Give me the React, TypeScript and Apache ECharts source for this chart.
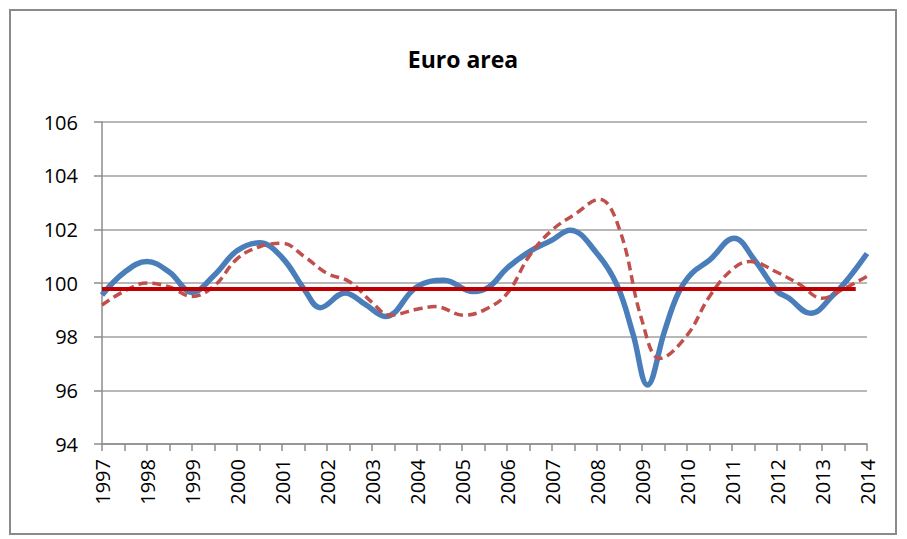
import { useEffect, useRef } from "react";
import * as echarts from "echarts";

const bluePeriods = [
  1997, 1997.5, 1998, 1998.5, 1999, 1999.5, 2000, 2000.5, 2001, 2001.5,
  2001.85, 2002.4, 2002.85, 2003.3, 2004, 2004.6, 2005.25, 2005.6, 2006, 2006.5,
  2007, 2007.4, 2008, 2008.45, 2008.8, 2009.12, 2009.5, 2009.8, 2010.1, 2010.5,
  2011.05, 2011.5, 2012, 2012.25, 2012.75, 2013.25, 2013.6, 2014,
];

const blueSeries = [
  99.55, 100.4, 100.8, 100.4, 99.65, 100.3, 101.2, 101.5, 100.95, 99.75,
  99.08, 99.63, 99.2, 98.75, 99.86, 100.1, 99.68, 99.85, 100.55, 101.17,
  101.6, 101.97, 101.1, 99.9, 98.1, 96.2, 98.2, 99.6, 100.35, 100.85,
  101.67, 100.86, 99.7, 99.45, 98.87, 99.55, 100.2, 101.1,
];

const redPeriods = [
  1997, 1997.5, 1998, 1998.5, 1999, 1999.5, 2000, 2000.5, 2001, 2001.5,
  2002, 2002.5, 2003, 2003.4, 2004, 2004.4, 2005.05, 2005.5, 2006, 2006.5,
  2007, 2007.5, 2008.05, 2008.5, 2009, 2009.4, 2010, 2010.5, 2011, 2011.4,
  2012, 2012.5, 2013, 2013.5, 2014,
];

const redDashedSeries = [
  99.18, 99.7, 100.0, 99.85, 99.5, 99.9, 100.9, 101.35, 101.48, 100.98,
  100.36, 100.05, 99.28, 98.8, 99.02, 99.12, 98.8, 99.0, 99.6, 101.02,
  101.97, 102.55, 103.12, 102.0, 98.6, 97.19, 98.05, 99.5, 100.5, 100.8,
  100.4, 99.95, 99.43, 99.8, 100.25,
];

const refX = [1997, 2013.75];
const refY = [99.78, 99.78];

const yMin = 94;
const yMax = 106;
const yStep = 2;
const xMin = 1997;
const xMax = 2014;

const FONT = "'Open Sans', 'Noto Sans', sans-serif";

export default function App() {
  const ref = useRef<HTMLDivElement>(null);

  useEffect(() => {
    if (!ref.current) return;
    const chart = echarts.init(ref.current, undefined, { renderer: "svg" });
    const pair = (xs: number[], ys: number[]) => xs.map((x, i) => [x, ys[i]]);
    chart.setOption({
      animation: false,
      backgroundColor: "#ffffff",
      graphic: [
        {
          type: "rect",
          shape: { x: 10, y: 10, width: 886, height: 524 },
          style: { fill: "none", stroke: "#8a8a8a", lineWidth: 2 },
          silent: true,
        },
        {
          type: "text",
          x: 463,
          y: 59,
          style: {
            text: "Euro area",
            fontFamily: FONT,
            fontSize: 23,
            fontWeight: "bold",
            fill: "#000",
            align: "center",
            verticalAlign: "middle",
          },
          silent: true,
        },
      ],
      grid: { left: 102, right: 40, top: 122, bottom: 95, containLabel: false },
      xAxis: {
        type: "value",
        min: xMin,
        max: xMax,
        interval: 1,
        axisLine: { show: true, lineStyle: { color: "#8c8c8c", width: 1.5 } },
        axisTick: { show: true, length: 7, lineStyle: { color: "#8c8c8c", width: 1.5 } },
        minorTick: { show: true, splitNumber: 2, length: 7, lineStyle: { color: "#8c8c8c", width: 1.5 } },
        splitLine: { show: false },
        axisLabel: {
          rotate: 90,
          margin: 15,
          fontFamily: FONT,
          fontSize: 20,
          color: "#000",
          formatter: (v: number) => String(v),
        },
      },
      yAxis: {
        type: "value",
        min: yMin,
        max: yMax,
        interval: yStep,
        axisLine: { show: true, lineStyle: { color: "#8c8c8c", width: 1.5 } },
        axisTick: { show: true, length: 8, lineStyle: { color: "#8c8c8c", width: 1.5 } },
        splitLine: { show: true, lineStyle: { color: "#a0a0a0", width: 1.5 } },
        axisLabel: {
          margin: 24,
          fontFamily: FONT,
          fontSize: 20,
          color: "#000",
        },
      },
      series: [
        {
          type: "line",
          data: pair(bluePeriods, blueSeries),
          smooth: 0.4,
          showSymbol: false,
          lineStyle: { color: "#4a7ebb", width: 5.5 },
          z: 2,
        },
        {
          type: "line",
          data: pair(redPeriods, redDashedSeries),
          smooth: 0.4,
          showSymbol: false,
          lineStyle: { color: "#c0504d", width: 3.5, type: [9, 5] },
          z: 3,
        },
        {
          type: "line",
          data: pair(refX, refY),
          showSymbol: false,
          lineStyle: { color: "#c00000", width: 4 },
          z: 4,
        },
      ],
    });
    return () => chart.dispose();
  }, []);

  return (
    <div
      ref={ref}
      style={{ position: "fixed", left: 0, top: 0, width: 907, height: 539 }}
    />
  );
}
